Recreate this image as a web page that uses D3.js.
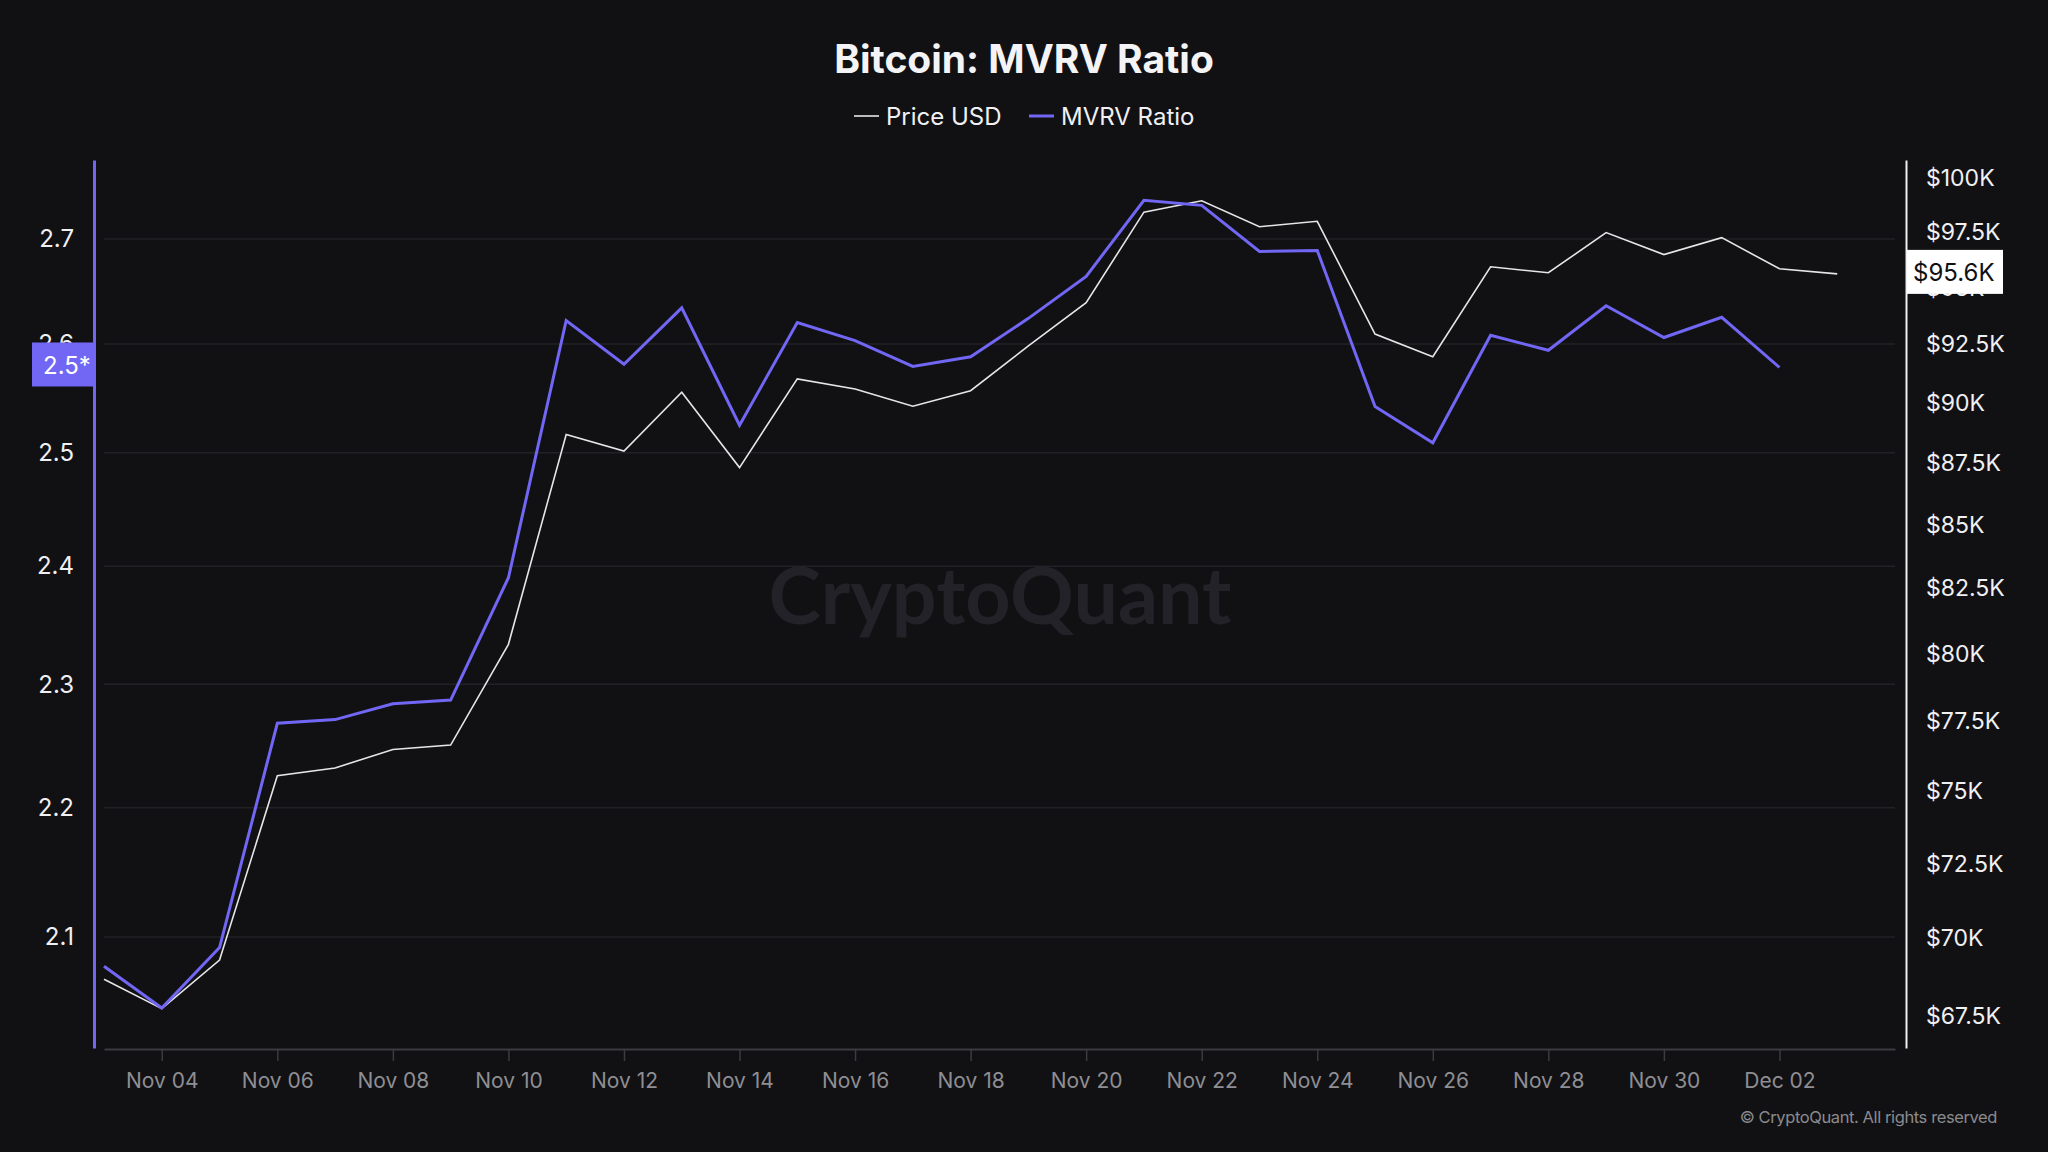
<!DOCTYPE html>
<html><head><meta charset="utf-8">
<script src="https://cdn.jsdelivr.net/npm/d3@7"></script>
<style>
html,body{margin:0;padding:0;background:#111114;}
svg{display:block;}
</style>
</head><body>
<svg id="chart" width="2048" height="1152"></svg>
<script>
// ---- data ----
const dates = ["2024-11-03","2024-11-04","2024-11-05","2024-11-06","2024-11-07","2024-11-08","2024-11-09","2024-11-10",
  "2024-11-11","2024-11-12","2024-11-13","2024-11-14","2024-11-15","2024-11-16","2024-11-17","2024-11-18","2024-11-19",
  "2024-11-20","2024-11-21","2024-11-22","2024-11-23","2024-11-24","2024-11-25","2024-11-26","2024-11-27","2024-11-28",
  "2024-11-29","2024-11-30","2024-12-01","2024-12-02","2024-12-03"];
const priceUSD = [68.67,67.73,69.29,75.55,75.83,76.49,76.65,80.36,88.68,87.99,90.45,87.31,91.02,90.59,89.86,90.52,
  92.44,94.34,98.43,98.96,97.76,98.01,92.96,91.97,95.94,95.67,97.49,96.49,97.26,95.85,95.62];
const mvrvRatio = [2.078,2.047,2.092,2.268,2.271,2.284,2.287,2.390,2.622,2.581,2.634,2.525,2.620,2.603,2.579,2.588,
  2.624,2.664,2.738,2.733,2.688,2.689,2.542,2.509,2.608,2.594,2.636,2.606,2.625,2.578];
const leftTicks = [2.1,2.2,2.3,2.4,2.5,2.6,2.7];
const rightTicks = [67.5,70,72.5,75,77.5,80,82.5,85,87.5,90,92.5,95,97.5,100];
const xTickDates = ["2024-11-04","2024-11-06","2024-11-08","2024-11-10","2024-11-12","2024-11-14","2024-11-16",
  "2024-11-18","2024-11-20","2024-11-22","2024-11-24","2024-11-26","2024-11-28","2024-11-30","2024-12-02"];
const xDomain = ["2024-11-03","2024-12-04"];
const leftDomain = [2.0177, 2.778];
const rightDomain = [66.49, 100.87];
const title = "Bitcoin: MVRV Ratio";
const seriesNames = ["Price USD","MVRV Ratio"];
const mvrvMarkerText = "2.5*";
const priceMarkerText = "$95.6K";

// ---- layout ----
const W = 2048, H = 1152;
const L = 104, R = 1895, T = 160, B = 1048;
const PURPLE = "#7167f4", WHITE = "#e6e6e8";
const parse = d3.utcParse("%Y-%m-%d");

const svg = d3.select("#chart");
svg.append("rect").attr("width",W).attr("height",H).attr("fill","#111114");

const x = d3.scaleUtc().domain(xDomain.map(parse)).range([L, R]);
const yL = d3.scaleLog().domain(leftDomain).range([B, T]);
const yR = d3.scaleLog().domain(rightDomain).range([B, T]);

// watermark
svg.append("text").attr("x",1000).attr("y",624).attr("text-anchor","middle")
  .attr("font-family","Lato, 'Open Sans', sans-serif").attr("font-size",79).attr("font-weight",700)
  .attr("fill","#222228").text("CryptoQuant");

// gridlines
svg.append("g").selectAll("line").data(leftTicks).join("line")
  .attr("x1",L).attr("x2",R).attr("y1",d=>yL(d)).attr("y2",d=>yL(d))
  .attr("stroke","#222226").attr("stroke-width",1.5);

// x axis
const xAxis = svg.append("g").attr("transform",`translate(0,${B+1})`)
  .call(d3.axisBottom(x).tickValues(xTickDates.map(parse)).tickFormat(d3.utcFormat("%b %d")).tickSize(12).tickSizeOuter(0).tickPadding(12));
xAxis.select(".domain").attr("stroke","#3c3c40").attr("stroke-width",2);
xAxis.selectAll(".tick line").attr("stroke","#3c3c40").attr("stroke-width",1.5);
xAxis.selectAll(".tick text").attr("fill","#8e8e93").attr("font-family","Inter, sans-serif").attr("font-size",21);

// left axis
const lAxis = svg.append("g").attr("transform",`translate(94,0)`)
  .call(d3.axisLeft(yL).tickValues(leftTicks).tickFormat(d3.format(".1f")).tickSize(0).tickPadding(20));
lAxis.select(".domain").attr("stroke",PURPLE).attr("stroke-width",3);
lAxis.selectAll(".tick text").attr("fill","#f0f0f2").attr("font-family","Inter, sans-serif").attr("font-size",24);

// right axis
const rAxis = svg.append("g").attr("transform",`translate(1906,0)`)
  .call(d3.axisRight(yR).tickValues(rightTicks).tickFormat(d=>"$"+d+"K").tickSize(0).tickPadding(20));
rAxis.select(".domain").attr("stroke","#f0f0f2").attr("stroke-width",2);
rAxis.selectAll(".tick text").attr("fill","#f0f0f2").attr("font-family","Inter, sans-serif").attr("font-size",23);

// lines
const priceData = priceUSD.map((v,i)=>({d:parse(dates[i]), v}));
const mvrvData = mvrvRatio.map((v,i)=>({d:parse(dates[i]), v}));
svg.append("path").datum(priceData).attr("fill","none").attr("stroke",WHITE).attr("stroke-width",1.6)
  .attr("stroke-linejoin","miter").attr("d", d3.line().x(p=>x(p.d)).y(p=>yR(p.v)));
svg.append("path").datum(mvrvData).attr("fill","none").attr("stroke",PURPLE).attr("stroke-width",3)
  .attr("stroke-linejoin","miter").attr("d", d3.line().x(p=>x(p.d)).y(p=>yL(p.v)));

// markers
const mY = yL(mvrvRatio[mvrvRatio.length-1]) - 2;
svg.append("rect").attr("x",32).attr("y",mY-23).attr("width",62).attr("height",44).attr("fill",PURPLE);
svg.append("text").attr("x",43).attr("y",mY).attr("dy","0.36em").attr("fill","#ffffff")
  .attr("font-family","Inter, sans-serif").attr("font-size",24).text(mvrvMarkerText);
const pY = yR(priceUSD[priceUSD.length-1]) - 2;
svg.append("rect").attr("x",1907).attr("y",pY-22).attr("width",96).attr("height",44).attr("fill","#ffffff");
svg.append("text").attr("x",1913).attr("y",pY).attr("dy","0.36em").attr("fill","#111114")
  .attr("font-family","Inter, sans-serif").attr("font-size",24).text(priceMarkerText);

// title
svg.append("text").attr("x",1024).attr("y",73).attr("text-anchor","middle").attr("fill","#f4f4f6")
  .attr("font-family","Inter, sans-serif").attr("font-weight",700).attr("font-size",39).text(title);

// legend
const lg = svg.append("g").attr("font-family","Inter, sans-serif").attr("font-size",24).attr("fill","#f0f0f2");
lg.append("line").attr("x1",854).attr("x2",879).attr("y1",116).attr("y2",116).attr("stroke",WHITE).attr("stroke-width",1.6);
lg.append("text").attr("x",886).attr("y",116).attr("dy","0.36em").text(seriesNames[0]);
lg.append("line").attr("x1",1029).attr("x2",1054).attr("y1",116).attr("y2",116).attr("stroke",PURPLE).attr("stroke-width",3);
lg.append("text").attr("x",1061).attr("y",116).attr("dy","0.36em").text(seriesNames[1]);

// copyright
svg.append("text").attr("x",1997).attr("y",1117).attr("dy","0.36em").attr("text-anchor","end")
  .attr("fill","#8a8a8e").attr("font-family","Inter, sans-serif").attr("font-size",16.5).attr("letter-spacing",-0.4)
  .text("© CryptoQuant. All rights reserved");
</script>
</body></html>
